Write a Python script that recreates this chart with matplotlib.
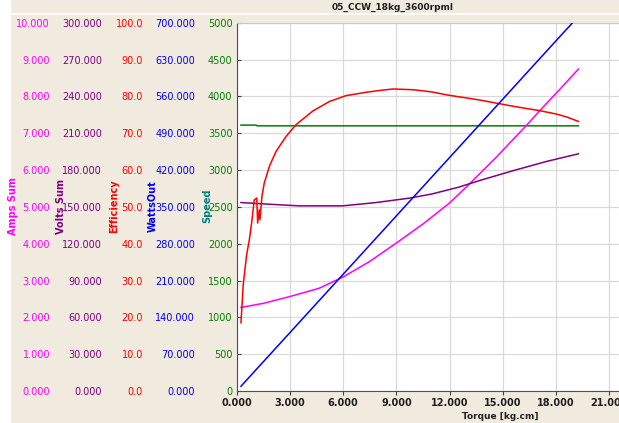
import matplotlib.pyplot as plt
from matplotlib.ticker import FormatStrFormatter, MultipleLocator
from matplotlib.patches import Rectangle
from matplotlib.lines import Line2D

title = '05_CCW_18kg_3600rpml'

# torque [kg.cm] and values, one list per curve
speed_torque = [0.24, 1.1, 1.15, 5.0, 10.0, 15.0, 19.25]
speed = [3610, 3610, 3600, 3600, 3600, 3600, 3600]

eff_torque = [0.24, 0.37, 0.56, 0.71, 0.85, 0.99, 1.13, 1.18, 1.27, 1.31, 1.42, 1.55,
              1.84, 2.21, 2.78, 3.34, 4.28, 5.22, 6.16, 7.28, 8.2, 8.82, 9.95, 11.0,
              11.83, 13.70, 15.58, 17.09, 18.0, 18.59, 19.25]
efficiency = [18.5, 29.0, 37.0, 41.0, 46.0, 51.9, 52.4, 45.6, 49.2, 46.5, 52.8, 56.4,
              61.0, 65.0, 69.1, 72.3, 76.0, 78.6, 80.2, 81.1, 81.7, 82.0, 81.8, 81.2,
              80.4, 79.0, 77.3, 76.1, 75.2, 74.4, 73.2]

volts_torque = [0.24, 2.0, 3.53, 5.97, 7.85, 9.73, 11.0, 12.5, 13.70, 15.58, 17.46, 19.25]
volts = [153.5, 152.0, 150.8, 150.8, 153.5, 157.1, 160.5, 166.0, 171.5, 179.5, 187.0, 193.2]

amps_torque = [0.24, 1.5, 2.96, 4.65, 5.97, 7.47, 8.97, 10.48, 11.98, 12.96, 14.65,
               16.34, 17.09, 18.2, 19.25]
amps = [2.27, 2.38, 2.56, 2.79, 3.09, 3.51, 4.01, 4.53, 5.10, 5.55, 6.36,
        7.22, 7.62, 8.19, 8.74]

watts_torque = [0.24, 3.0, 6.0, 9.0, 12.0, 15.0, 18.0, 19.25]
watts = [9.0, 111.0, 222.0, 333.0, 444.0, 555.0, 666.0, 712.0]

x_ticks = [0, 3, 6, 9, 12, 15, 18, 21]

beige = '#F1EADF'
W, H = 619, 423
fig = plt.figure(figsize=(W / 100, H / 100), dpi=100, facecolor=beige)
fig.patches.append(Rectangle((0, 0), 10 / W, 1, transform=fig.transFigure, color='white', zorder=0))
fig.lines.append(Line2D([10 / W, 1], [1 - 14.5 / H, 1 - 14.5 / H], transform=fig.transFigure,
                        color='white', lw=1.2))

left, right, top, bottom = 236.7, 619, 22.7, 391
ax = fig.add_axes([left / W, 1 - bottom / H, (right - left) / W, (bottom - top) / H])
ax.set_facecolor('white')
ax.set_xlim(0, (right - left) / 17.75)
ax.set_ylim(0, 5000)
ax.set_xticks(x_ticks)
ax.xaxis.set_major_formatter(FormatStrFormatter('%.3f'))
ax.yaxis.set_major_locator(MultipleLocator(500))
ax.yaxis.set_major_formatter(FormatStrFormatter('%d'))
ax.grid(True, color='#D9D9D9', lw=0.9)
ax.set_axisbelow(True)
ax.tick_params(axis='x', direction='out', length=3, width=0.8, color='#404040', pad=2,
               labelsize=7, labelcolor='#202020')
ax.tick_params(axis='y', direction='in', length=3, width=0.8, color='#404040', pad=3,
               labelsize=7, labelcolor='#008000')
for lab in ax.get_xticklabels():
    lab.set_fontweight('bold')
ax.spines['left'].set_color('#505050')
ax.spines['bottom'].set_color('#505050')
ax.spines['top'].set_color('#C8C8C8')
ax.spines['right'].set_visible(False)

# extra y axes, labels only, to the left of the plot
def extra_axis(pos, lim, step, fmt, color):
    a = ax.twinx()
    a.set_ylim(0, lim)
    a.yaxis.set_major_locator(MultipleLocator(step))
    a.yaxis.set_major_formatter(FormatStrFormatter(fmt))
    a.yaxis.set_ticks_position('left')
    a.yaxis.set_label_position('left')
    a.spines['left'].set_position(('axes', pos))
    for s in a.spines.values():
        s.set_visible(False)
    a.tick_params(axis='y', length=0, pad=0, labelsize=7, labelcolor=color)
    return a

ax_amps = extra_axis((50 - left) / (right - left), 10, 1, '%.3f', '#FF00FF')
ax_volts = extra_axis((102 - left) / (right - left), 300, 30, '%.3f', '#800080')
ax_eff = extra_axis((143 - left) / (right - left), 100, 10, '%.1f', '#FF0000')
ax_watts = extra_axis((195 - left) / (right - left), 700, 70, '%.3f', '#0000FF')

ax.plot(speed_torque, speed, color='#008000', lw=1.1, zorder=3)
ax_watts.plot(watts_torque, watts, color='#0000FF', lw=1.1)
ax_amps.plot(amps_torque, amps, color='#FF00FF', lw=1.1)
ax_volts.plot(volts_torque, volts, color='#800080', lw=1.1)
ax_eff.plot(eff_torque, efficiency, color='#FF0000', lw=1.1)

# rotated axis titles
for x, txt, c in [(13, 'Amps Sum', '#FF00FF'), (61, 'Volts Sum', '#800080'),
                  (114, 'Efficiency', '#FF0000'), (153, 'WattsOut', '#0000FF'),
                  (207, 'Speed', '#008080')]:
    fig.text(x / W, 1 - 206 / H, txt, rotation=90, ha='center', va='center',
             fontsize=7, fontweight='bold', color=c)

fig.text(393 / W, 1 - 7.5 / H, title, ha='center', va='center', fontsize=6.5,
         fontweight='bold', color='#202020')
fig.text(500 / W, 1 - 416 / H, 'Torque [kg.cm]', ha='center', va='center', fontsize=6.5,
         fontweight='bold', color='#202020')

fig.savefig('out.png', dpi=100, facecolor=beige)
